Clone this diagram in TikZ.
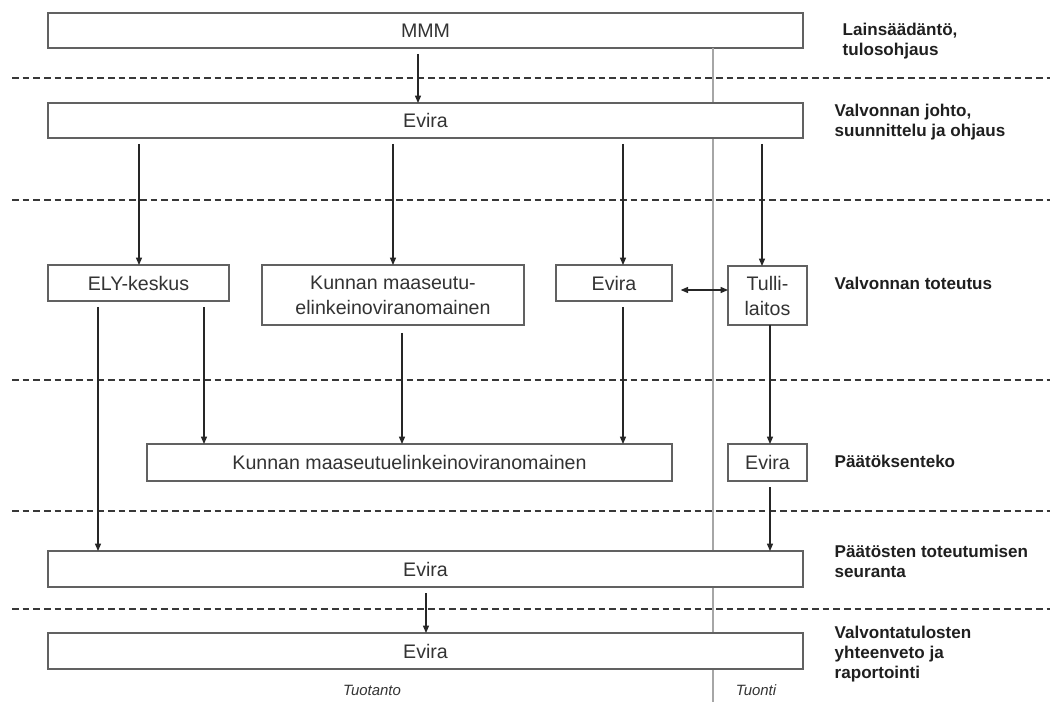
\documentclass[tikz,border=0pt]{standalone}
\usepackage{fontspec}
\setmainfont{Liberation Sans}
\usetikzlibrary{arrows.meta}
\begin{document}
\begin{tikzpicture}[x=0.75pt,y=-0.75pt,
  box/.style={draw=black!62, line width=1.3pt, fill=white, inner sep=0pt, outer sep=0pt,
    text=black!80, align=center, font=\fontsize{14.7}{18.75}\selectfont},
  arr/.style={draw=black!85, line width=0.9pt, -{Triangle[length=5.5pt,width=4.5pt]}, shorten <=4.5pt},
  darr/.style={draw=black!85, line width=0.9pt, {Triangle[length=5.5pt,width=4.5pt]}-{Triangle[length=5.5pt,width=4.5pt]}, shorten <=6.5pt},
  divider/.style={draw=black!78, line width=1.3pt, dash pattern=on 5pt off 3pt},
  sepline/.style={draw=black!35, line width=1pt},
  lab/.style={anchor=west, align=left, text=black!88, font=\fontsize{12.8}{15}\selectfont\bfseries},
  col/.style={text=black!80, font=\fontsize{11.2}{13}\selectfont\itshape}]
\useasboundingbox (0,0) rectangle (1050,702);

% dividers
\foreach \yy in {78,200,380,511,609}
  \draw[divider] (12,\yy) -- (1050,\yy);

% top box, then the production / import separator behind the other boxes
\node[box, minimum width=566.25pt, minimum height=26.25pt] (mmm) at (425.5,30.5) {MMM};
\draw[sepline] (mmm.south -| 713,0) -- (713,702);

\node[box, minimum width=566.25pt, minimum height=26.25pt] (evira1) at (425.5,120.5) {Evira};
\node[box, minimum width=135.75pt, minimum height=27pt] (ely) at (138.5,283) {ELY-keskus};
\node[box, minimum width=196.5pt, minimum height=45pt] (kunnan1) at (393,295) {Kunnan maaseutu-\\elinkeinoviranomainen};
\node[box, minimum width=87pt, minimum height=27pt] (evira2) at (614,283) {Evira};
\node[box, minimum width=59.25pt, minimum height=44.25pt] (tulli) at (767.5,295.5) {Tulli-\\laitos};
\node[box, minimum width=393.75pt, minimum height=27.75pt] (kunnan2) at (409.5,462.5) {Kunnan maaseutuelinkeinoviranomainen};
\node[box, minimum width=59.25pt, minimum height=27.75pt] (evira3) at (767.5,462.5) {Evira};
\node[box, minimum width=566.25pt, minimum height=27pt] (evira4) at (425.5,569) {Evira};
\node[box, minimum width=566.25pt, minimum height=27pt] (evira5) at (425.5,651) {Evira};

% connectors
\draw[arr] (mmm.south -| 418,0) -- (evira1.north -| 418,0);
\draw[arr] (evira1.south -| 139,0) -- (ely.north -| 139,0);
\draw[arr] (evira1.south -| 393,0) -- (kunnan1.north -| 393,0);
\draw[arr] (evira1.south -| 623,0) -- (evira2.north -| 623,0);
\draw[arr] (evira1.south -| 762,0) -- (tulli.north -| 762,0);
\draw[arr] (ely.south -| 98,0) -- (evira4.north -| 98,0);
\draw[arr] (ely.south -| 204,0) -- (kunnan2.north -| 204,0);
\draw[arr, shorten <=6pt] (kunnan1.south -| 402,0) -- (kunnan2.north -| 402,0);
\draw[arr] (evira2.south -| 623,0) -- (kunnan2.north -| 623,0);
\draw[darr] (evira2.east |- 0,290) -- (tulli.west |- 0,290);
\draw[arr, shorten <=0pt] (tulli.south -| 770,0) -- (evira3.north -| 770,0);
\draw[arr] (evira3.south -| 770,0) -- (evira4.north -| 770,0);
\draw[arr] (evira4.south -| 426,0) -- (evira5.north -| 426,0);

% level labels
\node[lab] (l1) at (838,41) {Lainsäädäntö,\\tulosohjaus};
\node[lab] (l2) at (830,122) {Valvonnan johto,\\suunnittelu ja ohjaus};
\node[lab] (l3) at (830,283) {Valvonnan toteutus};
\node[lab] (l4) at (830,461) {Päätöksenteko};
\node[lab] (l5) at (830,561) {Päätösten toteutumisen\\seuranta};
\node[lab] (l6) at (830,654) {Valvontatulosten\\yhteenveto ja\\raportointi};

% column labels
\node[col] (tuotanto) at (372,690) {Tuotanto};
\node[col] (tuonti) at (756,690) {Tuonti};
\end{tikzpicture}
\end{document}
